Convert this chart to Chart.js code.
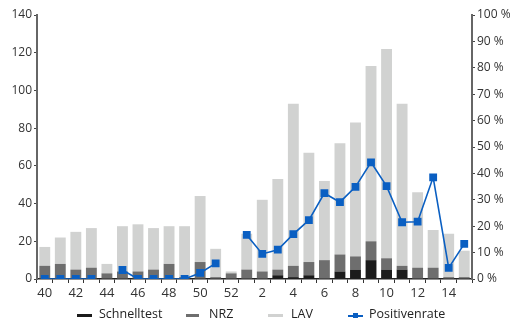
<!DOCTYPE html>
<html>
<head>
<meta charset="utf-8">
<script src="https://cdn.jsdelivr.net/npm/chart.js@4.4.1/dist/chart.umd.min.js"></script>
<style>
  html, body { margin: 0; padding: 0; background: #fff; }
  #wrap { width: 510px; height: 324px; position: relative; }
  #legend { position: absolute; left: 0; top: 305px; width: 510px; height: 20px;
            font-family: 'Open Sans', 'DejaVu Sans', sans-serif; font-size: 12.5px; color: #222; }
  .item { position: absolute; top: 0; height: 20px; line-height: 20px; white-space: nowrap; }
  .sym { position: absolute; top: 9px; height: 3px; }
  .txt { position: absolute; top: 0; }
  .sq { position: absolute; width: 5px; height: 5px; top: -1px; }
</style>
</head>
<body>
<div id="wrap">
  <canvas id="c" width="510" height="324"></canvas>
  <div id="legend"></div>
</div>
<script>
// Kalenderwochen (Saison 40 bis 15)
const weeks = ['40','41','42','43','44','45','46','47','48','49','50','51','52',
               '1','2','3','4','5','6','7','8','9','10','11','12','13','14','15'];

// Anzahl untersuchter Proben je Quelle
const schnelltest = [0,0,0,0,0,0,0,0,0,0,0,0,0, 0,0,2,1,2,0,4,5,10,5,5,0,0,0,0];
const nrz         = [7,8,5,6,3,4,4,5,8,1,9,1,3, 5,4,3,6,7,10,9,7,10,6,2,6,6,1,1];
const lav         = [10,14,20,21,5,24,25,22,20,27,35,15,1, 19,38,48,86,58,42,59,71,93,111,86,40,20,23,14];

// Positivenrate in Prozent (null = kein Wert)
const positivenrate = [0,0,0,0,null,3.4,0,0,0,0,2.3,5.9,null,
                       16.7,9.5,11.1,17.0,22.3,32.5,29.1,34.9,44.2,35.2,21.5,21.7,38.5,4.2,13.3];

// Beschriftete Wochen an der x-Achse
const tickLabels = ['40','42','44','46','48','50','52','2','4','6','8','10','12','14'];

const leftTicks = { max: 140, step: 20 };
const rightTicks = { max: 100, step: 10 };

const colors = {
  schnelltest: '#1b1b1b',
  nrz: '#6e6e6e',
  lav: '#d1d2d1',
  rate: '#0a5fc2'
};

const tickFont = { family: "'Open Sans', 'DejaVu Sans', sans-serif", size: 12 };

const chart = new Chart(document.getElementById('c'), {
  data: {
    labels: weeks,
    datasets: [
      { type: 'bar', label: 'Schnelltest', data: schnelltest, backgroundColor: colors.schnelltest,
        yAxisID: 'y', stack: 's', order: 2 },
      { type: 'bar', label: 'NRZ', data: nrz, backgroundColor: colors.nrz,
        yAxisID: 'y', stack: 's', order: 2 },
      { type: 'bar', label: 'LAV', data: lav, backgroundColor: colors.lav,
        yAxisID: 'y', stack: 's', order: 2 },
      { type: 'line', label: 'Positivenrate', data: positivenrate, yAxisID: 'y2', order: 1,
        borderColor: colors.rate, backgroundColor: colors.rate, borderWidth: 1.6,
        pointStyle: 'rect', pointRadius: 4.4, pointHoverRadius: 4.4, spanGaps: false,
        tension: 0 }
    ]
  },
  options: {
    responsive: false,
    animation: false,
    layout: { padding: { top: 15, left: 0, right: 0, bottom: 23 } },
    datasets: { bar: { barPercentage: 0.7, categoryPercentage: 1.0 } },
    plugins: {
      tooltip: { enabled: false },
      legend: { display: false }
    },
    scales: {
      x: {
        stacked: true,
        offset: true,
        grid: { display: true, drawOnChartArea: false, drawTicks: true, tickLength: 4, offset: true, color: '#333' },
        border: { display: true, color: '#222', width: 1.5 },
        ticks: {
          autoSkip: false, maxRotation: 0, padding: 2, color: '#333',
          font: { family: tickFont.family, size: 13 },
          callback(v, i) { const l = weeks[i]; return tickLabels.includes(l) ? l : ''; }
        },
        afterFit(s) { s.height = 22; }
      },
      y: {
        stacked: true,
        position: 'left',
        min: 0, max: leftTicks.max,
        grid: { display: true, drawOnChartArea: false, drawTicks: true, tickLength: 3, color: '#444' },
        border: { display: true, color: '#666', width: 2 },
        ticks: { stepSize: leftTicks.step, padding: 2, color: '#333', font: tickFont },
        afterFit(s) { s.width = 37; }
      },
      y2: {
        position: 'right',
        min: 0, max: rightTicks.max,
        grid: { display: true, drawOnChartArea: false, drawTicks: true, tickLength: 3, color: '#444' },
        border: { display: true, color: '#666', width: 2 },
        ticks: { stepSize: rightTicks.step, padding: 2, color: '#333', font: { family: tickFont.family, size: 12 },
                 callback(v) { return v + ' %'; } },
        afterFit(s) { s.width = 38; }
      }
    }
  }
});

// Legende unter dem Diagramm, aus den Datensätzen erzeugt
const legendLayout = [
  { sym: 77, w: 15, txt: 99 },
  { sym: 186, w: 13, txt: 209 },
  { sym: 268, w: 15, txt: 291 },
  { sym: 348, w: 15, txt: 369 }
];
const legendEl = document.getElementById('legend');
chart.data.datasets.forEach((ds, i) => {
  const L = legendLayout[i];
  const sym = document.createElement('div');
  sym.className = 'sym';
  sym.style.left = L.sym + 'px';
  sym.style.width = L.w + 'px';
  sym.style.background = ds.backgroundColor;
  if (ds.type === 'line') {
    sym.style.height = '1.6px';
    sym.style.top = '10px';
    const sq = document.createElement('div');
    sq.className = 'sq';
    sq.style.left = '5px';
    sq.style.top = '-2px';
    sq.style.background = ds.backgroundColor;
    sym.appendChild(sq);
  }
  const txt = document.createElement('div');
  txt.className = 'txt';
  txt.style.left = L.txt + 'px';
  txt.textContent = ds.label;
  legendEl.appendChild(sym);
  legendEl.appendChild(txt);
});
</script>
</body>
</html>
